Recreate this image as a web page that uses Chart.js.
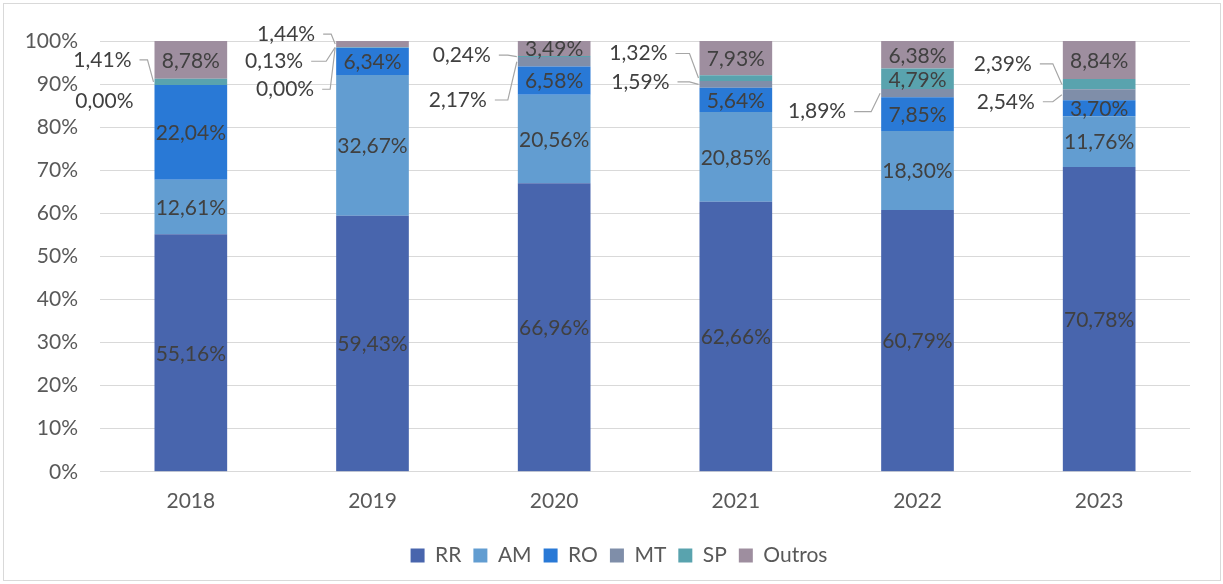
<!DOCTYPE html>
<html>
<head>
<meta charset="utf-8">
<script src="https://cdn.jsdelivr.net/npm/chart.js@4/dist/chart.umd.min.js"></script>
<style>
  html, body { margin: 0; padding: 0; background: #fff; }
  #moldura { position: absolute; left: 3px; top: 3px; width: 1216px; height: 576px; border: 1px solid #d9d9d9; }
  #caixa { position: absolute; left: 0; top: 0; width: 1223px; height: 584px; }
</style>
</head>
<body>
<div id="moldura"></div>
<div id="caixa"><canvas id="grafico" width="1223" height="584"></canvas></div>
<script>
// dados (% por ano)
const anos = ['2018', '2019', '2020', '2021', '2022', '2023'];
const RR = [55.16, 59.43, 66.96, 62.66, 60.79, 70.78];
const AM = [12.61, 32.67, 20.56, 20.85, 18.30, 11.76];
const RO = [22.04, 6.34, 6.58, 5.64, 7.85, 3.70];
const MT = [0.00, 0.00, 2.17, 1.59, 1.89, 2.54];
const SP = [1.41, 0.13, 0.24, 1.32, 4.79, 2.39];
const Outros = [8.78, 1.44, 3.49, 7.93, 6.38, 8.84];
const yTicks = [0, 10, 20, 30, 40, 50, 60, 70, 80, 90, 100];

// rotulos fora da barra: [altura em unidades do eixo, distancia ate a barra em px]
const rotulosFora = {
  MT: [[86.0, 21], [88.8, 22], [86.3, 31], [90.5, 30], [83.6, 35], [85.9, 28]],
  SP: [[95.6, 23], [95.3, 33], [96.7, 27], [97.1, 32], null, [94.7, 31]],
  Outros: [null, [101.6, 21], null, null, null, null]
};

const cores = {
  RR: '#4865ad', AM: '#629dd1', RO: '#2979d6',
  MT: '#7f8ea9', SP: '#59a3ae', Outros: '#9e8e9f'
};

const FONTE = 'Lato, "Open Sans", sans-serif';
const TAM = 21;

function fmt(v) {
  return v.toFixed(2).replace('.', ',') + '%';
}

const series = { RR, AM, RO, MT, SP, Outros };

const pluginRotulos = {
  id: 'rotulos',
  afterLayout(chart) {
    // legenda centrada um pouco mais a direita, como no original
    chart.legend.left += 24;
    chart.legend.right += 24;
  },
  afterDatasetsDraw(chart) {
    const ctx = chart.ctx;
    const yScale = chart.scales.y;
    ctx.save();
    ctx.font = TAM + 'px ' + FONTE;
    ctx.textBaseline = 'middle';
    chart.data.datasets.forEach((ds, i) => {
      const meta = chart.getDatasetMeta(i);
      meta.data.forEach((bar, j) => {
        const v = ds.data[j];
        const meio = (bar.y + bar.base) / 2;
        const fora = rotulosFora[ds.label] ? rotulosFora[ds.label][j] : null;
        ctx.fillStyle = '#404040';
        if (fora) {
          const esq = bar.x - bar.width / 2;
          const ty = yScale.getPixelForValue(fora[0]);
          const tx = esq - fora[1];
          ctx.textAlign = 'right';
          ctx.fillText(fmt(v), tx, ty);
          if (!(v === 0 && j === 0)) {
            const x0 = tx + 8;
            const x1 = Math.max(x0 + 8, esq - 10);
            ctx.strokeStyle = '#a6a6a6';
            ctx.lineWidth = 1.2;
            ctx.beginPath();
            ctx.moveTo(x0, ty);
            ctx.lineTo(x1, ty);
            ctx.lineTo(esq - 1, meio);
            ctx.stroke();
          }
        } else {
          ctx.textAlign = 'center';
          ctx.fillText(fmt(v), bar.x, meio + 1);
        }
      });
    });
    ctx.restore();
  }
};

new Chart(document.getElementById('grafico'), {
  type: 'bar',
  data: {
    labels: anos,
    datasets: Object.keys(series).map(nome => ({
      label: nome,
      data: series[nome],
      backgroundColor: cores[nome],
      borderWidth: 0,
      categoryPercentage: 1,
      barPercentage: 0.4
    }))
  },
  options: {
    responsive: false,
    animation: false,
    layout: { padding: { left: 0, right: 33, top: 41, bottom: 8 } },
    plugins: {
      tooltip: { enabled: false },
      legend: {
        position: 'bottom',
        labels: {
          font: { family: FONTE, size: TAM },
          color: '#595959',
          boxWidth: 14,
          boxHeight: 14,
          padding: 12
        }
      }
    },
    scales: {
      x: {
        stacked: true,
        afterFit(s) { s.height += 2; },
        grid: { display: false, drawTicks: false },
        border: { display: true, color: '#d9d9d9' },
        ticks: { font: { family: FONTE, size: TAM }, color: '#595959', padding: 17 }
      },
      y: {
        stacked: true,
        min: 0,
        max: 100,
        afterFit(s) { s.width = 100; },
        afterBuildTicks(s) { s.ticks = yTicks.map(v => ({ value: v })); },
        grid: { color: '#d9d9d9', drawTicks: false },
        border: { display: false },
        ticks: {
          font: { family: FONTE, size: TAM },
          color: '#595959',
          padding: 22,
          callback: v => v + '%'
        }
      }
    }
  },
  plugins: [pluginRotulos]
});
</script>
</body>
</html>
